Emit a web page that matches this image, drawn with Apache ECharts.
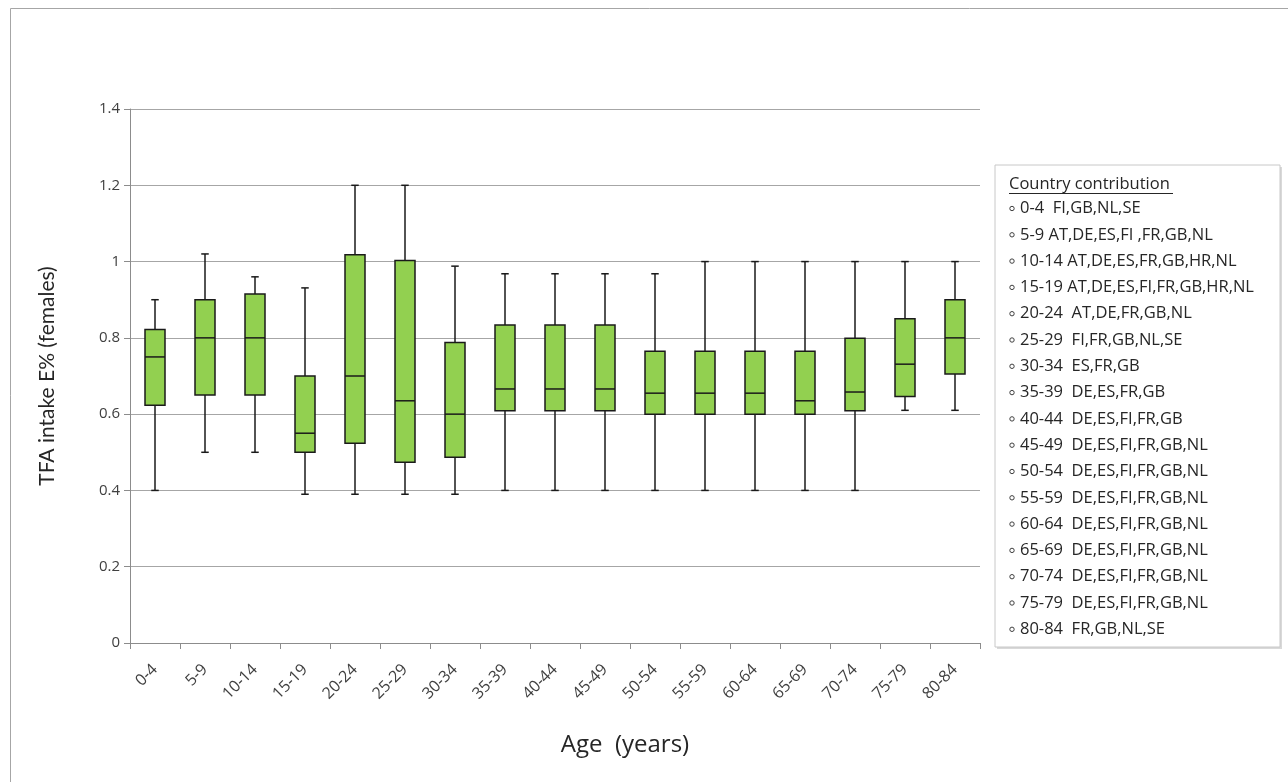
<!DOCTYPE html>
<html>
<head>
<meta charset="utf-8">
<script src="https://cdn.jsdelivr.net/npm/echarts@6/dist/echarts.min.js"></script>
<style>html,body{margin:0;padding:0;background:#fff}#c{width:1288px;height:782px}</style>
</head>
<body>
<div id="c"></div>
<script>
const categories = ['0-4','5-9','10-14','15-19','20-24','25-29','30-34','35-39','40-44','45-49','50-54','55-59','60-64','65-69','70-74','75-79','80-84'];
const minVals = [0.40,0.50,0.50,0.39,0.39,0.39,0.39,0.40,0.40,0.40,0.40,0.40,0.40,0.40,0.40,0.61,0.61];
const q1Vals  = [0.623,0.65,0.65,0.50,0.524,0.474,0.487,0.609,0.609,0.609,0.60,0.60,0.60,0.60,0.609,0.646,0.705];
const medVals = [0.75,0.80,0.80,0.55,0.70,0.635,0.60,0.666,0.666,0.666,0.655,0.655,0.655,0.635,0.658,0.731,0.80];
const q3Vals  = [0.822,0.90,0.915,0.70,1.018,1.003,0.788,0.834,0.834,0.834,0.765,0.765,0.765,0.765,0.799,0.85,0.90];
const maxVals = [0.90,1.02,0.96,0.931,1.20,1.20,0.988,0.968,0.968,0.968,0.968,1.0,1.0,1.0,1.0,1.0,1.0];
const yTicks = [0,0.2,0.4,0.6,0.8,1,1.2,1.4];
const legendTitle = 'Country contribution';
const contributions = ['FI,GB,NL,SE','AT,DE,ES,FI ,FR,GB,NL','AT,DE,ES,FR,GB,HR,NL','AT,DE,ES,FI,FR,GB,HR,NL','AT,DE,FR,GB,NL','FI,FR,GB,NL,SE','ES,FR,GB','DE,ES,FR,GB','DE,ES,FI,FR,GB','DE,ES,FI,FR,GB,NL','DE,ES,FI,FR,GB,NL','DE,ES,FI,FR,GB,NL','DE,ES,FI,FR,GB,NL','DE,ES,FI,FR,GB,NL','DE,ES,FI,FR,GB,NL','DE,ES,FI,FR,GB,NL','FR,GB,NL,SE'];
const legendSep = ['  ',' ',' ',' ','  ','  ','  ','  ','  ','  ','  ','  ','  ','  ','  ','  ','  '];

const FONT = '"Open Sans", Lato, sans-serif';
const VFONT = 'Lato, "Open Sans", sans-serif';
const data = categories.map((c,i)=>[i,minVals[i],q1Vals[i],medVals[i],q3Vals[i],maxVals[i]]);

const chart = echarts.init(document.getElementById('c'));

const legendX = 995, legendY = 165, legendW = 285, legendH = 482;
const graphics = [
  {type:'rect', shape:{x:10.5,y:8.5,width:1300,height:800}, style:{fill:'none',stroke:'#a6a6a6',lineWidth:1}, silent:true, z:-10},
  {type:'rect', shape:{x:legendX+2,y:legendY+2,width:legendW,height:legendH}, style:{fill:'#d9d9d9'}, z:10},
  {type:'rect', shape:{x:legendX,y:legendY,width:legendW,height:legendH}, style:{fill:'#fff',stroke:'#c8c8c8',lineWidth:1}, z:11},
  {type:'text', x:1009, y:184, style:{text:legendTitle, font:'16.5px '+FONT, fill:'#262626', verticalAlign:'middle'}, z:12},
  {type:'line', shape:{x1:1009,y1:193.5,x2:1173,y2:193.5}, style:{stroke:'#262626',lineWidth:1}, z:12}
];
categories.forEach((c,i)=>{
  const y = 208.5 + i*26.3;
  graphics.push({type:'circle', shape:{cx:1012,cy:y,r:2.2}, style:{fill:'#fff',stroke:'#404040',lineWidth:1}, z:12});
  graphics.push({type:'text', x:1020, y:y, style:{text:c+legendSep[i]+contributions[i], font:'16.5px '+FONT, fill:'#262626', verticalAlign:'middle'}, z:12});
});

chart.setOption({
  animation:false,
  backgroundColor:'#fff',
  grid:{left:130,right:308,top:109,bottom:139,containLabel:false},
  xAxis:{
    type:'category', data:categories, boundaryGap:true,
    name:'Age  (years)', nameLocation:'middle', nameGap:90,
    nameTextStyle:{fontSize:24,color:'#262626',fontFamily:FONT,padding:[0,0,0,140]},
    axisLine:{lineStyle:{color:'#8c8c8c',width:1}},
    axisTick:{show:true,length:6,alignWithLabel:false,lineStyle:{color:'#8c8c8c'}},
    axisLabel:{rotate:45,fontSize:16,color:'#404040',fontFamily:FONT,margin:24,interval:0},
    splitLine:{show:false}
  },
  yAxis:{
    type:'value', min:0, max:1.4, interval:0.2,
    name:'TFA intake E% (females)', nameLocation:'middle', nameGap:72,
    nameTextStyle:{fontSize:21,color:'#262626',fontFamily:VFONT},
    axisLine:{show:true,lineStyle:{color:'#8c8c8c',width:1}},
    axisTick:{show:true,length:6,inside:false,lineStyle:{color:'#8c8c8c'}},
    axisLabel:{fontSize:15,color:'#404040',fontFamily:FONT,margin:10,
      formatter:(v)=>{const t=yTicks.find(x=>Math.abs(x-v)<1e-6);return String(t!==undefined?t:v);}},
    splitLine:{show:true,lineStyle:{color:'#a6a6a6',width:1}}
  },
  series:[{
    type:'custom',
    data:data,
    encode:{x:0,y:[1,2,3,4,5]},
    renderItem:function(params,api){
      const idx = api.value(0);
      const pMin = api.coord([idx,api.value(1)]);
      const pQ1 = api.coord([idx,api.value(2)]);
      const pMed = api.coord([idx,api.value(3)]);
      const pQ3 = api.coord([idx,api.value(4)]);
      const pMax = api.coord([idx,api.value(5)]);
      const band = api.size([1,0])[0];
      const bw = band*0.4, cw = band*0.15;
      const x = pQ1[0];
      const lineStyle = {stroke:'#1a1a1a',lineWidth:1.5,fill:null};
      return {type:'group',children:[
        {type:'line',shape:{x1:x,y1:pMax[1],x2:x,y2:pQ3[1]},style:lineStyle},
        {type:'line',shape:{x1:x,y1:pQ1[1],x2:x,y2:pMin[1]},style:lineStyle},
        {type:'line',shape:{x1:x-cw/2,y1:pMax[1],x2:x+cw/2,y2:pMax[1]},style:lineStyle},
        {type:'line',shape:{x1:x-cw/2,y1:pMin[1],x2:x+cw/2,y2:pMin[1]},style:lineStyle},
        {type:'rect',shape:{x:x-bw/2,y:pQ3[1],width:bw,height:pQ1[1]-pQ3[1]},style:{fill:'#92d050',stroke:'#1a1a1a',lineWidth:1.5}},
        {type:'line',shape:{x1:x-bw/2,y1:pMed[1],x2:x+bw/2,y2:pMed[1]},style:lineStyle}
      ]};
    }
  }],
  graphic:graphics
});
</script>
</body>
</html>
